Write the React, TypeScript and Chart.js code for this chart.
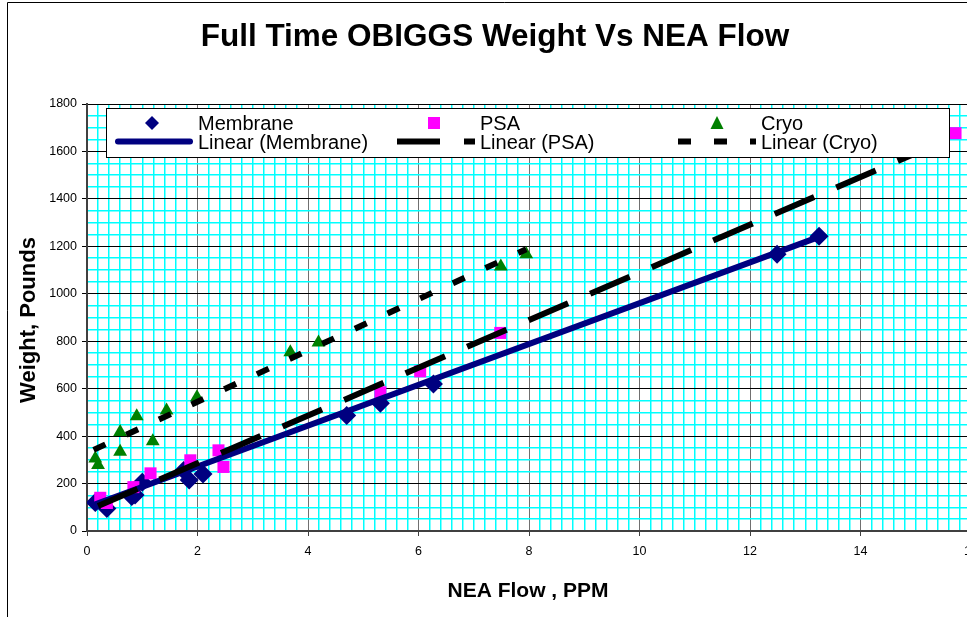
import React, { useEffect, useRef } from 'react';
import { Chart, registerables } from 'chart.js';

Chart.register(...registerables);

// ---- Data ----
const membraneX = [0.15, 0.36, 0.81, 0.87, 1.0, 1.75, 1.85, 2.1, 4.7, 5.31, 6.27, 12.49, 13.25];
const membraneY = [120, 95, 145, 152, 205, 255, 215, 240, 487, 538, 620, 1167, 1243];

const psaX = [0.24, 0.36, 0.84, 1.15, 1.87, 2.38, 2.47, 5.31, 6.03, 7.48, 15.72];
const psaY = [140, 118, 185, 243, 298, 340, 270, 585, 673, 835, 1677];

const cryoX = [0.15, 0.2, 0.6, 0.6, 0.9, 1.19, 1.44, 1.99, 3.68, 4.19, 7.49, 7.95];
const cryoY = [306, 278, 417, 334, 484, 378, 508, 564, 753, 795, 1115, 1167];

// Excel linear trend lines: end points
const trendMembraneX = [0.15, 13.25];
const trendMembraneY = [113, 1240];
const trendPsaX = [0.2, 15.72];
const trendPsaY = [105, 1665];
const trendCryoX = [0.12, 7.95];
const trendCryoY = [342, 1188];

const seriesNames = ['Membrane', 'PSA', 'Cryo'];
const trendNames = ['Linear (Membrane)', 'Linear (PSA)', 'Linear (Cryo)'];

const titleText = 'Full Time OBIGGS Weight Vs NEA Flow';
const xTitleText = 'NEA Flow , PPM';
const yTitleText = 'Weight, Pounds';

const xMin = 0, xMax = 16, xMinor = 0.2, xMajor = 2;
const yMin = 0, yMax = 1800, yMinor = 50, yMajor = 200;

const FONT = '"Liberation Sans", Arial, Helvetica, sans-serif';
const NAVY = '#000080';
const MAGENTA = '#ff00ff';
const GREEN = '#008000';
const CYAN = '#00ffff';

const pts = (xs: number[], ys: number[]) => xs.map((x, i) => ({ x, y: ys[i] }));
const isMult = (v: number, m: number) => Math.abs(v / m - Math.round(v / m)) < 1e-6;

const decorPlugin = {
  id: 'decor',
  afterDraw(chart: any) {
    const ctx: CanvasRenderingContext2D = chart.ctx;
    ctx.save();
    // outer frame
    ctx.strokeStyle = '#000';
    ctx.lineWidth = 1;
    ctx.beginPath();
    ctx.moveTo(7.5, 640);
    ctx.lineTo(7.5, 2.5);
    ctx.lineTo(1100, 2.5);
    ctx.stroke();

    // title
    ctx.fillStyle = '#000';
    ctx.font = `bold 31.5px ${FONT}`;
    ctx.textAlign = 'center';
    ctx.textBaseline = 'alphabetic';
    ctx.fillText(titleText, 495, 46);

    // x title
    ctx.font = `bold 21px ${FONT}`;
    ctx.fillText(xTitleText, 528, 596.5);

    // y title
    ctx.save();
    ctx.translate(35, 320);
    ctx.rotate(-Math.PI / 2);
    ctx.font = `bold 22px ${FONT}`;
    ctx.fillText(yTitleText, 0, 0);
    ctx.restore();

    // legend box
    ctx.fillStyle = '#fff';
    ctx.fillRect(106, 108, 843, 49);
    ctx.strokeStyle = '#000';
    ctx.lineWidth = 1;
    ctx.strokeRect(106.5, 108.5, 843, 49);

    const colMarker = [152, 434, 717];
    const colLine = [115, 397, 678];
    const colText = [198, 480, 761];
    const row1 = 123, row2 = 141.5;

    // diamond
    ctx.fillStyle = NAVY;
    ctx.beginPath();
    ctx.moveTo(colMarker[0], row1 - 7);
    ctx.lineTo(colMarker[0] + 7, row1);
    ctx.lineTo(colMarker[0], row1 + 7);
    ctx.lineTo(colMarker[0] - 7, row1);
    ctx.closePath();
    ctx.fill();
    // square
    ctx.fillStyle = MAGENTA;
    ctx.fillRect(colMarker[1] - 6, row1 - 6, 12, 12);
    // triangle
    ctx.fillStyle = GREEN;
    ctx.beginPath();
    ctx.moveTo(colMarker[2], row1 - 7);
    ctx.lineTo(colMarker[2] + 6.5, row1 + 6);
    ctx.lineTo(colMarker[2] - 6.5, row1 + 6);
    ctx.closePath();
    ctx.fill();

    // line samples
    ctx.lineWidth = 6;
    ctx.strokeStyle = NAVY;
    ctx.lineCap = 'round';
    ctx.beginPath();
    ctx.moveTo(colLine[0] + 3, row2);
    ctx.lineTo(colLine[0] + 75, row2);
    ctx.stroke();
    ctx.lineCap = 'butt';
    ctx.strokeStyle = '#000';
    ctx.setLineDash([43, 24]);
    ctx.beginPath();
    ctx.moveTo(colLine[1], row2);
    ctx.lineTo(colLine[1] + 78, row2);
    ctx.stroke();
    ctx.setLineDash([13, 23]);
    ctx.beginPath();
    ctx.moveTo(colLine[2], row2);
    ctx.lineTo(colLine[2] + 78, row2);
    ctx.stroke();
    ctx.setLineDash([]);

    // texts
    ctx.fillStyle = '#000';
    ctx.font = `20px ${FONT}`;
    ctx.textAlign = 'left';
    ctx.textBaseline = 'alphabetic';
    for (let i = 0; i < 3; i++) {
      ctx.fillText(seriesNames[i], colText[i], 130);
      ctx.fillText(trendNames[i], colText[i], 148.5);
    }
    ctx.restore();
  },
};

export default function App() {
  const ref = useRef<HTMLCanvasElement | null>(null);

  useEffect(() => {
    if (!ref.current) return;
    const chart = new Chart(ref.current, {
      type: 'scatter',
      data: {
        datasets: [
          {
            label: seriesNames[0],
            data: pts(membraneX, membraneY),
            pointStyle: 'rectRot',
            pointRadius: 9.5,
            backgroundColor: NAVY,
            borderColor: NAVY,
            borderWidth: 0,
            showLine: false,
            order: 6,
          },
          {
            label: seriesNames[1],
            data: pts(psaX, psaY),
            pointStyle: 'rect',
            pointRadius: 8.5,
            backgroundColor: MAGENTA,
            borderColor: MAGENTA,
            borderWidth: 0,
            showLine: false,
            order: 5,
          },
          {
            label: seriesNames[2],
            data: pts(cryoX, cryoY),
            pointStyle: 'triangle',
            pointRadius: 8,
            backgroundColor: GREEN,
            borderColor: GREEN,
            borderWidth: 0,
            showLine: false,
            order: 4,
          },
          {
            label: trendNames[0],
            data: pts(trendMembraneX, trendMembraneY),
            showLine: true,
            pointRadius: 0,
            borderColor: NAVY,
            borderWidth: 6,
            borderCapStyle: 'round',
            order: 3,
          },
          {
            label: trendNames[1],
            data: pts(trendPsaX, trendPsaY),
            showLine: true,
            pointRadius: 0,
            borderColor: '#000',
            borderWidth: 6,
            borderDash: [43, 24],
            order: 2,
          },
          {
            label: trendNames[2],
            data: pts(trendCryoX, trendCryoY),
            showLine: true,
            pointRadius: 0,
            borderColor: '#000',
            borderWidth: 6,
            borderDash: [13, 23],
            order: 1,
          },
        ],
      } as any,
      options: {
        responsive: false,
        animation: false,
        devicePixelRatio: 1,
        events: [],
        layout: { padding: { left: 40, right: 29, top: 104, bottom: 56 } },
        plugins: {
          legend: { display: false },
          title: { display: false },
          tooltip: { enabled: false },
        },
        scales: {
          x: {
            type: 'linear',
            min: xMin,
            max: xMax,
            afterFit: (s: any) => { s.height = 30; },
            ticks: {
              stepSize: xMinor,
              autoSkip: false,
              maxRotation: 0,
              minRotation: 0,
              padding: 8,
              color: '#000',
              font: { family: FONT, size: 12.5 },
              callback: (v: any) => (isMult(Number(v), xMajor) ? String(Math.round(Number(v))) : ''),
            },
            grid: {
              color: (c: any) => (c.tick && isMult(c.tick.value, xMajor) ? '#707070' : CYAN),
              lineWidth: (c: any) => (c.tick && isMult(c.tick.value, xMajor) ? 1 : 1.5),
              tickLength: 5,
              tickColor: (c: any) => (c.tick && isMult(c.tick.value, xMajor) ? '#404040' : 'rgba(0,0,0,0)'),
            },
            border: { color: '#404040', width: 2 },
          },
          y: {
            type: 'linear',
            min: yMin,
            max: yMax,
            afterFit: (s: any) => { s.width = 47; },
            ticks: {
              stepSize: yMinor,
              autoSkip: false,
              padding: 5,
              color: '#000',
              font: { family: FONT, size: 12.5 },
              callback: (v: any) => (isMult(Number(v), yMajor) ? String(Math.round(Number(v))) : ''),
            },
            grid: {
              color: (c: any) => (c.tick && isMult(c.tick.value, yMajor) ? '#000' : CYAN),
              lineWidth: (c: any) => (c.tick && isMult(c.tick.value, yMajor) ? 1 : 1.5),
              tickLength: 5,
              tickColor: (c: any) => (c.tick && isMult(c.tick.value, yMajor) ? '#000' : 'rgba(0,0,0,0)'),
            },
            border: { color: '#404040', width: 2 },
          },
        },
      } as any,
      plugins: [decorPlugin],
    });
    return () => chart.destroy();
  }, []);

  return (
    <div
      style={{
        position: 'fixed',
        left: 0,
        top: 0,
        width: 967,
        height: 617,
        overflow: 'hidden',
        background: '#fff',
      }}
    >
      <canvas ref={ref} width={1000} height={617} style={{ display: 'block' }} />
    </div>
  );
}
